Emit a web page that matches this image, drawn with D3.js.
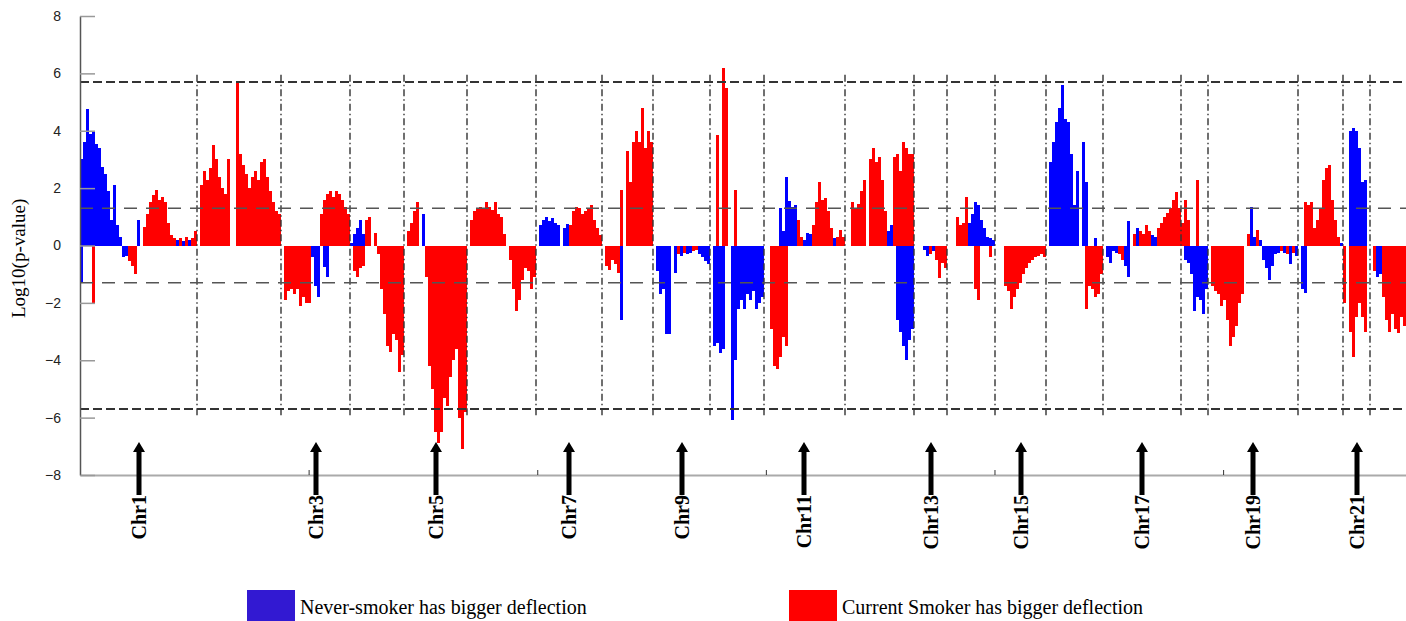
<!DOCTYPE html>
<html>
<head>
<meta charset="utf-8">
<script src="https://cdn.jsdelivr.net/npm/d3@7"></script>
<style>
  body { margin: 0; background: #fff; }
  svg { display: block; }
</style>
</head>
<body>
<script>
// page size and plot box
var svgWidth = 1406;
var svgHeight = 621;
var plotLeft = 80, plotRight = 1406, plotTop = 16, plotBottom = 475;

// group markers used inside the chromosome arrays
var B = "b";   // never-smoker has bigger deflection
var R = "r";   // current smoker has bigger deflection

var chrNames = ["Chr1", "Chr2", "Chr3", "Chr4", "Chr5", "Chr6", "Chr7", "Chr8", "Chr9", "Chr10", "Chr11",
    "Chr12", "Chr13", "Chr14", "Chr15", "Chr16", "Chr17", "Chr18", "Chr19", "Chr20", "Chr21", "Chr22"];
var labeledChrs = ["Chr1", "Chr3", "Chr5", "Chr7", "Chr9", "Chr11", "Chr13", "Chr15", "Chr17", "Chr19", "Chr21"];
var yTicks = [-8, -6, -4, -2, 0, 2, 4, 6, 8];
var thresholds = [5.7, 1.3, -1.3, -5.7];
var bottomTicks = [0, 1, 2, 3, 4, 5];
var legendLabels = ["Never-smoker has bigger deflection", "Current Smoker has bigger deflection"];

// signed log10(p) per window, a group marker switches the colour of the following values
var chr1 = [B, 3.0, 3.6, 4.75, 3.9, 4.0, 3.55, 3.4, 2.75, 2.5, 1.9, 0.9, 2.1, 0.7, 0.3, -0.4, -0.35,
    R, -0.55, -0.7, -1.0, B, 0.9, 0, R, 0.65, 1.1, 1.5, 1.75, 1.95, 1.6, 1.7, 1.5, 0.8, 0.35, 0.25,
    B, 0.2, R, 0.25, B, 0.15, R, 0.3, B, 0.2, R, 0.25, 0.5];
var chr2 = [R, 0, 2.1, 2.6, 2.3, 2.7, 3.5, 3.0, 2.4, 2.0, 1.8, 3.0, 0, 0, 5.65, 3.2, 2.8, 2.5, 2.0, 2.4,
    2.6, 2.3, 2.9, 3.0, 2.4, 1.9, 1.5, 1.2, 1.1];
var chr3 = [R, 0, -1.9, -1.6, -1.5, -1.7, -1.5, -2.1, -1.8, -2.0, -2.0, B, -0.4, -1.4, -1.8,
    R, 1.1, 1.6, 1.8, 1.9, 1.7, 1.9, 1.8, 1.6, 1.35, 1.1];
var chr4 = [B, 0.1, R, -0.9, B, 0.6, 0.9, R, -0.7, 0.9, 1.0, 0, 0.45, -0.3, -1.5, -2.4, -3.5, -3.7,
    -3.1, -3.3, -4.4, -3.8];
var chr5 = [R, 0, 0.5, 0.8, 1.2, 1.5, 0, B, 1.1, R, -1.1, -4.2, -5.0, -6.5, -6.9, -6.5, -5.3, -5.6,
    -4.6, -4.0, -3.6, -6.0, -7.1, -5.8];
var chr6 = [R, 0, 0.9, 1.2, 1.3, 1.35, 1.3, 1.5, 1.35, 1.25, 1.5, 1.1, 1.0, 0.4, 0, -0.5, -1.5, -2.3,
    -1.9, -1.2, -0.8, -0.9, -1.5, -1.1];
var chr7 = [B, 0, 0.7, 0.9, 1.0, 0.85, 0.95, 0.8, 0.7, 0, 0.6, 0.75,
    R, 0.7, 1.2, 1.35, 1.3, 1.1, 1.2, 1.3, 1.4, 0.9, 0.6, 0.35];
var chr8 = [R, 0, -0.7, -0.85, -0.5, -0.65, -0.95, B, -2.6, R, 0, 3.3, 2.2, 3.6, 4.0, 3.6, 4.8, 3.4, 4.0, 3.6];
var chr9 = [R, 0, B, -0.9, -1.7, -1.5, -3.1, -3.1, 0, -0.95, R, -0.3, B, -0.35, R, -0.25, B, -0.3, -0.25,
    R, -0.2, -0.15, B, -0.3, -0.4, -0.55, -0.65];
var chr10 = [R, 0, B, -3.5, -3.4, -3.75, R, 6.2, 5.5, 0, B, -6.1, -4.0, -2.2, -1.9, -2.2, -1.7, -1.9,
    -1.6, -2.2, -2.0, -1.8];
var chr11 = [R, 0, 0, -2.9, -4.2, -4.3, -3.9, -3.2, -3.5, B, 1.55, 1.35, 1.4, R, 0.9, 0.3, B, 0.2, 0.45, 0.4,
    R, 0.7, 1.5, 2.2, 1.6, 1.65, 1.2, 0.6, B, 0.25, R, 0.3, 0.55, 0.3];
var chr12 = [R, 0, 0, 1.5, 1.3, 1.45, 1.9, 2.3, 0, 3.0, 3.4, 2.9, 3.1, 2.3, 1.2, B, 0.5, 0.7,
    R, 3.1, 3.2, 2.6, 3.6, 3.4, 3.2, 3.2];
var chr13 = [R, 0, 0, 0, B, -0.15, -0.35, R, -0.3, B, -0.2, R, -0.5, -1.15, -0.6, -0.8];
var chr14 = [R, 0, 0, 0, 1.0, 0.7, 0.8, 1.7, B, 0.8, 1.1, 1.5, 1.4, 0.9, 0.6, 0.3, 0.25, 0.2];
var chr15 = [R, 0, 0, 0, -1.4, -1.6, -2.2, -1.8, -1.5, -1.3, -1.0, -0.8, -0.6, -0.5, -0.4, -0.35, -0.3, -0.4];
var chr16 = [B, 0, 2.9, 3.6, 4.3, 4.8, 5.6, 4.4, 4.3, 3.2, 1.4, 2.6, 0, 3.6, R, -2.2, -1.4, -1.5, -1.8, -1.7, -1.0];
var chr17 = [B, 0, -0.4, -0.6, -0.2, -0.25, R, -0.3, -0.5, B, -0.7, -1.1, 0, R, 0.4, B, 0.6,
    R, 0.5, 0.4, 0.7, 0.5, B, 0.35, 0.3, R, 0.6, 0.8, 1.0, 1.15, 1.3, 1.6, 1.85, 1.3];
var chr18 = [R, 0.8, 1.6, 0.9, B, -1.0, -2.3, R, 2.3, B, -1.9, -2.4, -1.5];
var chr19 = [R, 0, -1.4, -1.6, -1.7, -2.1, -1.9, -2.6, -3.5, -3.2, -2.8, -2.0, -1.7, 0, 0.4, 0.5, B, 0.3,
    R, 0.55, B, 0.2, -0.5, -0.8, -1.2, -0.7, -0.3, -0.25, R, -0.2, B, -0.25, R, -0.3, B, -0.65, R, -0.25, B, -0.35];
var chr20 = [B, 0, -1.5, -1.65, R, 1.4, 1.5, 0.6, 0.9, 1.3, 2.3, 2.7, 2.8, 1.6, 0.9, 0.3, B, 0.1];
var chr21 = [R, -2.0, 0, B, 4.0, 4.1, 4.0, 3.4, 2.2, 2.3, 0];
var chr22 = [R, 0, -0.9, B, -1.1, -1.0, R, -1.8, -2.6, -3.0, -2.4, -2.9, -3.05, -2.5, -2.8];

// windows where both groups show a deflection: [chromosome, window, value, group]
var overlaySpikes = [
    [1, 0, -1.3, B], [1, 4, -2.0, R],
    [3, 14, -0.75, B], [3, 15, -1.1, B],
    [4, 1, 0.4, B], [4, 2, -1.1, R], [4, 3, -0.8, R], [4, 4, 0.4, B],
    [8, 6, 1.95, R],
    [10, 2, 3.85, R], [10, 4, -3.6, B], [10, 8, 1.95, R],
    [11, 5, 1.3, B], [11, 6, 0.5, B], [11, 7, 2.4, B],
    [12, 17, -2.6, B], [12, 18, -3.0, B], [12, 19, -3.5, B], [12, 20, -4.0, B], [12, 21, -3.3, B], [12, 22, -2.9, B],
    [14, 9, -1.5, R], [14, 10, -1.9, R], [14, 14, -0.4, R],
    [16, 13, 2.2, B], [16, 16, 0.25, B],
    [17, 8, 0.85, B],
    [18, 1, -0.5, B], [18, 2, -0.6, B], [18, 5, -1.8, B],
    [19, 14, 1.35, B],
    [20, 2, 1.5, R],
    [21, 2, -3.0, R], [21, 3, -3.9, R], [21, 4, -2.5, R], [21, 5, -2.0, R], [21, 6, -2.5, R], [21, 7, -3.0, R]
];

var chromosomes = [chr1, chr2, chr3, chr4, chr5, chr6, chr7, chr8, chr9, chr10, chr11,
    chr12, chr13, chr14, chr15, chr16, chr17, chr18, chr19, chr20, chr21, chr22];

var colors = { b: "#0000ff", r: "#ff0000" };
var legendColors = ["#3219d2", "#ff0000"];

// flatten the chromosome arrays into bars with a running window position
var bars = [];
var chrStart = [];
var pos = 0;
chromosomes.forEach(function (arr) {
    var group = B;
    chrStart.push(pos);
    arr.forEach(function (v) {
        if (typeof v === "string") { group = v; return; }
        bars.push({ pos: pos, value: v, group: group });
        pos++;
    });
});
chrStart.push(pos);
var totalWindows = pos;

overlaySpikes.forEach(function (s) {
    bars.push({ pos: chrStart[s[0] - 1] + s[1], value: s[2], group: s[3] });
});

var svg = d3.select("body").append("svg")
    .attr("width", svgWidth)
    .attr("height", svgHeight)
    .style("font-family", "'Liberation Serif', 'Times New Roman', serif");

var x = d3.scaleLinear().domain([0, totalWindows]).range([plotLeft, plotRight]);
var y = d3.scaleLinear().domain([-8, 8]).range([plotBottom, plotTop]);
var probeScale = d3.scaleLinear().domain([0, 5.8]).range([plotLeft, plotRight]);

// bars
svg.append("g")
    .attr("shape-rendering", "crispEdges")
    .selectAll("rect")
    .data(bars.filter(function (d) { return d.value !== 0; }))
    .enter()
    .append("rect")
    .attr("x", function (d) { return x(d.pos); })
    .attr("width", x(1) - x(0))
    .attr("y", function (d) { return y(Math.max(0, d.value)); })
    .attr("height", function (d) { return Math.abs(y(d.value) - y(0)); })
    .attr("fill", function (d) { return colors[d.group]; });

// chromosome boundaries
svg.append("g")
    .selectAll("line")
    .data(chrStart.slice(1, chromosomes.length))
    .enter()
    .append("line")
    .attr("x1", function (d) { return x(d); })
    .attr("x2", function (d) { return x(d); })
    .attr("y1", y(5.95))
    .attr("y2", y(-6.0))
    .attr("stroke", "#333")
    .attr("stroke-width", 1.4)
    .attr("stroke-dasharray", "7,3,1.5,3");

// significance lines
svg.append("g")
    .selectAll("line")
    .data(thresholds)
    .enter()
    .append("line")
    .attr("x1", plotLeft)
    .attr("x2", plotRight)
    .attr("y1", function (d) { return y(d); })
    .attr("y2", function (d) { return y(d); })
    .attr("stroke", function (d) { return Math.abs(d) > 5 ? "#333" : "#555"; })
    .attr("stroke-width", function (d) { return Math.abs(d) > 5 ? 2 : 1.6; })
    .attr("stroke-dasharray", function (d) { return Math.abs(d) > 5 ? "9,4" : "13,9"; });

// bottom axis
var xAxis = d3.axisBottom(probeScale).tickValues(bottomTicks).tickSizeInner(-5).tickSizeOuter(0).tickFormat("");
var gx = svg.append("g").attr("transform", "translate(0," + plotBottom + ")").call(xAxis);
gx.select(".domain").attr("stroke", "#aaa").attr("stroke-width", 2);
gx.selectAll(".tick line").attr("stroke", "#333");

// left axis
var yAxis = d3.axisLeft(y).tickValues(yTicks).tickSizeInner(-15).tickSizeOuter(0).tickPadding(19);
var gy = svg.append("g").attr("transform", "translate(" + plotLeft + ",0)").call(yAxis);
gy.select(".domain").attr("stroke", "#555").attr("stroke-width", 1.5);
gy.selectAll(".tick line").attr("stroke", "#999").attr("stroke-width", 1.5);
gy.selectAll(".tick text")
    .style("font-family", "'Liberation Sans', Arial, sans-serif")
    .style("font-size", "14px")
    .attr("fill", "#222");

svg.append("text")
    .attr("transform", "translate(25," + y(-0.45) + ") rotate(-90)")
    .attr("text-anchor", "middle")
    .style("font-size", "19px")
    .text("Log10(p-value)");

// chromosome arrows and labels
var labelGroups = svg.append("g")
    .selectAll("g")
    .data(labeledChrs)
    .enter()
    .append("g")
    .attr("transform", function (d) {
        var c = chrNames.indexOf(d);
        return "translate(" + Math.round(x((chrStart[c] + chrStart[c + 1]) / 2)) + ",0)";
    });

labelGroups.append("rect")
    .attr("x", -2.5)
    .attr("width", 5)
    .attr("y", 449)
    .attr("height", 46)
    .attr("fill", "#000");
labelGroups.append("path")
    .attr("d", "M-6,452 L0,442 L6,452 Z")
    .attr("fill", "#000");
labelGroups.append("text")
    .attr("transform", "translate(7,495) rotate(-90)")
    .attr("text-anchor", "end")
    .style("font-size", "20px")
    .style("font-weight", "bold")
    .text(function (d) { return d; });

// legend
var legend = svg.append("g")
    .selectAll("g")
    .data(legendLabels)
    .enter()
    .append("g")
    .attr("transform", function (d, i) { return "translate(" + [247, 789][i] + ",590)"; });
legend.append("rect")
    .attr("width", 48)
    .attr("height", 40)
    .attr("fill", function (d, i) { return legendColors[i]; });
legend.append("text")
    .attr("x", 53)
    .attr("y", 24)
    .style("font-size", "20px")
    .text(function (d) { return d; });
</script>
</body>
</html>
